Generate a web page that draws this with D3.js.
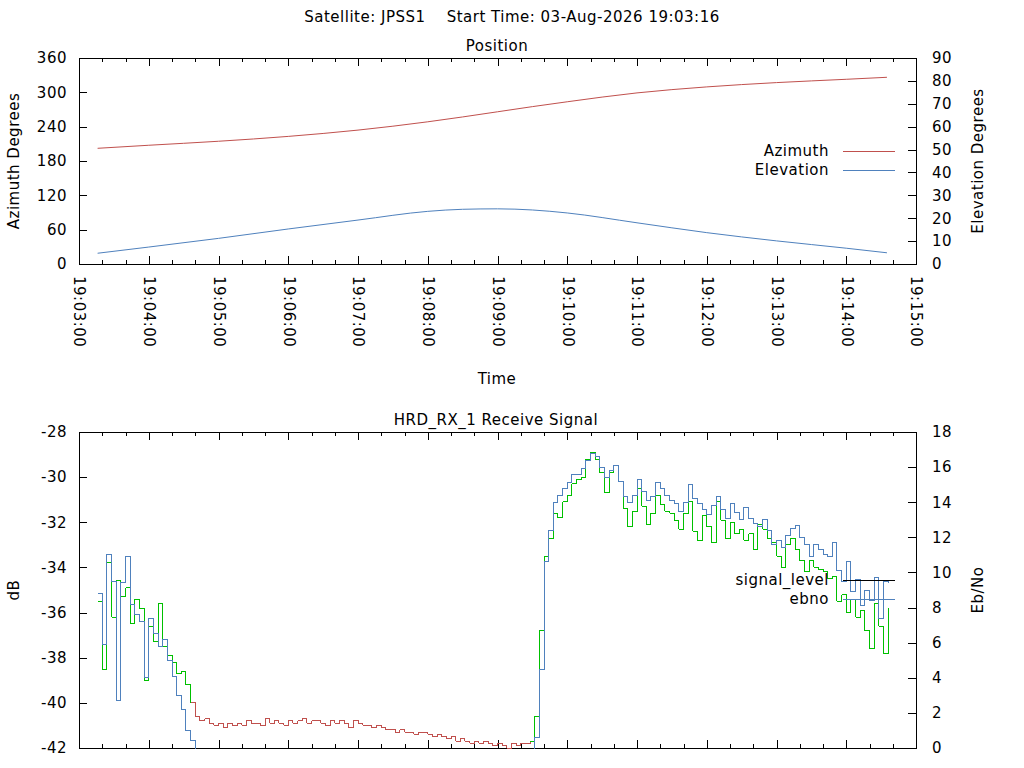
<!DOCTYPE html>
<html>
<head>
<meta charset="utf-8">
<title>JPSS1 pass</title>
<style>
  body { margin: 0; background: #ffffff; }
  svg { display: block; font-family: "DejaVu Sans", sans-serif; letter-spacing: 0.5px; }
  .axis .domain { display: none; }
</style>
</head>
<body>
<div id="chart"></div>
<script src="https://d3js.org/d3.v7.min.js"></script>
<script>
// pass info
var satellite = "JPSS1";
var startTime = "03-Aug-2026 19:03:16";
var passDay = "2026-08-03";

// x axis limits
var timeStart = "19:03:00";
var timeEnd = "19:15:00";

// tick values
var azTicks = [0, 60, 120, 180, 240, 300, 360];
var elTicks = [0, 10, 20, 30, 40, 50, 60, 70, 80, 90];
var dbTicks = [-42, -40, -38, -36, -34, -32, -30, -28];
var ebTicks = [0, 2, 4, 6, 8, 10, 12, 14, 16, 18];

// position samples
var posTimes = ["19:03:16", "19:04:00", "19:05:00", "19:06:00", "19:07:00", "19:08:00",
  "19:08:30", "19:09:00", "19:09:30", "19:10:00", "19:11:00", "19:12:00", "19:13:00",
  "19:14:00", "19:14:35"];
var azimuth = [202.2, 207.5, 214.5, 223, 234, 248.5, 257, 266, 275, 283.5, 299, 309.5, 317, 322.8, 326.3];
var elevation = [4.7, 7.4, 11.2, 15.3, 19.2, 23.0, 23.9, 24.1, 23.6, 22.3, 18.0, 13.7, 10.1, 6.9, 4.9];

// receive signal, logged every 4 s from the start time
var sigStart = "19:03:16";
var sigStep = 4;
var signalLevel = [
  -35.5, -38.5, -33.8, -36.2, -34.6, -35.3, -34.9, -36.5, -35.4, -35.8,
  -39.0, -36.6, -37.3, -35.6, -37.5, -37.9, -38.2, -38.7, -38.6, -39.2,
  -40.0, -40.6, -40.8, -40.7, -40.9, -41.0, -40.9, -41.1, -40.9, -41.0,
  -40.9, -41.0, -40.8, -40.9, -40.9, -41.0, -40.7, -40.9, -40.8, -40.9,
  -41.0, -40.8, -40.9, -40.8, -40.7, -40.9, -40.8, -40.8, -40.9, -41.0,
  -40.8, -40.9, -40.8, -40.9, -41.1, -40.8, -40.9, -41.0, -41.0, -41.1,
  -41.0, -41.1, -41.2, -41.2, -41.3, -41.2, -41.3, -41.3, -41.4, -41.3,
  -41.3, -41.4, -41.5, -41.4, -41.5, -41.6, -41.5, -41.7, -41.6, -41.7,
  -41.8, -41.7, -41.8, -41.7, -41.8, -41.9, -41.8, -41.9, -42.0, -41.8,
  -41.9, -41.8, -41.8, -41.7, -40.6, -36.8, -33.5, -32.7, -31.6, -31.8,
  -31.1, -30.8, -30.3, -30.1, -30.0, -29.2, -28.9, -29.2, -29.8, -30.7,
  -29.8, -29.5, -30.2, -31.4, -32.2, -31.5, -30.5, -31.3, -32.1, -31.6,
  -30.8, -31.2, -31.5, -31.6, -31.9, -32.3, -31.6, -31.1, -32.4, -32.8,
  -31.7, -32.2, -32.9, -31.1, -31.9, -32.7, -32.0, -32.5, -32.3, -32.8,
  -32.5, -33.2, -32.1, -32.3, -32.7, -32.9, -33.5, -34.0, -33.0, -32.7,
  -33.2, -33.7, -34.2, -33.7, -34.0, -34.1, -34.2, -34.5, -34.4, -35.5,
  -35.2, -36.0, -35.4, -36.2, -35.9, -36.8, -37.6, -35.6, -36.6, -37.8,
  -35.8];
var ebno = [
  8.8, 5.9, 11.0, 9.5, 2.7, 9.4, 10.9, 8.2, 7.6, 7.2,
  4.0, 7.4, 6.5, 5.8, 6.2, 5.0, 4.1, 3.0, 2.2, 1.0,
  0.4, -1.0, null, null, null, null, null, null, null, null,
  null, null, null, null, null, null, null, null, null, null,
  null, null, null, null, null, null, null, null, null, null,
  null, null, null, null, null, null, null, null, null, null,
  null, null, null, null, null, null, null, null, null, null,
  null, null, null, null, null, null, null, null, null, null,
  null, null, null, null, null, null, null, null, null, null,
  null, null, null, -1.0, 0.6, 4.5, 10.6, 12.4, 14.0, 14.4,
  14.8, 15.1, 15.6, 15.6, 15.9, 16.4, 16.8, 16.6, 16.0, 15.4,
  15.8, 16.1, 15.2, 14.3, 14.0, 14.4, 15.3, 14.6, 14.1, 14.3,
  15.1, 14.8, 14.4, 14.1, 13.9, 13.5, 14.0, 15.0, 14.2, 13.9,
  13.6, 13.3, 13.8, 14.3, 13.6, 13.1, 13.9, 13.4, 13.0, 13.7,
  13.1, 12.8, 12.6, 13.0, 12.4, 11.6, 11.8, 11.4, 12.1, 12.5,
  12.7, 12.0, 11.6, 10.9, 11.6, 11.3, 11.0, 10.9, 11.7, 10.1,
  9.5, 10.6, 8.9, 9.6, 8.1, 9.0, 8.4, 9.7, 7.4, 9.5,
  9.4];

var red = "#c0504d", blue = "#4f81bd", green = "#00c000";
var fontSize = 15;

var parseTime = d3.timeParse("%Y-%m-%d %H:%M:%S");
function at(hms) { return parseTime(passDay + " " + hms); }

var svg = d3.select("#chart").append("svg")
  .attr("width", 1024)
  .attr("height", 768);

var left = 79, right = 916;
var x = d3.scaleTime().domain([at(timeStart), at(timeEnd)]).range([left, right]);

// draws frame, tics and tick labels for one panel
function panel(top, bottom, yL, yR, ticksL, ticksR, xLabels, clipId) {
  var g = svg.append("g");

  svg.append("clipPath").attr("id", clipId)
    .append("rect").attr("x", left).attr("y", top)
    .attr("width", right - left + 1).attr("height", bottom - top + 1);

  var axes = [
    d3.axisBottom(x).ticks(d3.timeMinute.every(1)).tickSize(-8),
    d3.axisBottom(x).ticks(d3.timeSecond.every(20)).tickSize(-4).tickFormat(""),
    d3.axisTop(x).ticks(d3.timeMinute.every(1)).tickSize(-8).tickFormat(""),
    d3.axisTop(x).ticks(d3.timeSecond.every(20)).tickSize(-4).tickFormat("")
  ];
  axes.forEach(function(a, i) {
    var ax = g.append("g").attr("class", "axis")
      .attr("transform", "translate(0," + (i < 2 ? bottom : top) + ")")
      .call(a);
    if (i === 0) {
      if (xLabels) {
        ax.call(a.tickFormat(d3.timeFormat("%H:%M:%S")));
        ax.selectAll("text")
          .attr("y", 0).attr("x", 12).attr("dy", "0.35em")
          .attr("transform", "rotate(90)")
          .attr("text-anchor", "start");
      } else {
        ax.selectAll("text").remove();
      }
    }
  });

  g.append("g").attr("class", "axis")
    .attr("transform", "translate(" + left + ",0)")
    .call(d3.axisLeft(yL).tickValues(ticksL).tickSize(-8).tickPadding(12).tickFormat(String));
  g.append("g").attr("class", "axis")
    .attr("transform", "translate(" + right + ",0)")
    .call(d3.axisRight(yR).tickValues(ticksR).tickSize(-8).tickPadding(16).tickFormat(String));

  g.selectAll(".axis").attr("font-family", null).attr("font-size", fontSize);
  g.selectAll(".axis text").attr("fill", "#000");
  g.selectAll(".axis line").attr("stroke", "#000").attr("shape-rendering", "crispEdges");

  g.append("rect")
    .attr("x", left + 0.5).attr("y", top + 0.5)
    .attr("width", right - left).attr("height", bottom - top)
    .attr("fill", "none").attr("stroke", "#000")
    .attr("shape-rendering", "crispEdges");
}

function label(txt, px, py, rot, anchor) {
  return svg.append("text")
    .attr("transform", "translate(" + px + "," + py + ")" + (rot ? " rotate(" + rot + ")" : ""))
    .attr("text-anchor", anchor || "middle")
    .attr("dy", "0.35em")
    .attr("font-size", fontSize)
    .attr("fill", "#000")
    .text(txt);
}

function legend(items, ty) {
  items.forEach(function(it, i) {
    var yy = ty + i * 19;
    label(it[0], 829, yy, 0, "end");
    svg.append("line")
      .attr("x1", 843).attr("x2", 895)
      .attr("y1", yy + 0.5).attr("y2", yy + 0.5)
      .attr("stroke", it[1]).attr("shape-rendering", "crispEdges");
  });
}

// title
label("Satellite: " + satellite + "    Start Time: " + startTime, 512, 17, 0, "middle")
  .style("white-space", "pre");

// ---------- Position panel ----------
var pTop = 58, pBottom = 264;
var yAz = d3.scaleLinear().domain([0, 360]).range([pBottom, pTop]);
var yEl = d3.scaleLinear().domain([0, 90]).range([pBottom, pTop]);
panel(pTop, pBottom, yAz, yEl, azTicks, elTicks, true, "clipPos");

var posData = posTimes.map(function(t, i) {
  return { t: at(t), az: azimuth[i], el: elevation[i] };
});
var posPlot = svg.append("g").attr("clip-path", "url(#clipPos)");
posPlot.append("path").datum(posData)
  .attr("fill", "none").attr("stroke", red).attr("stroke-width", 1)
  .attr("d", d3.line().curve(d3.curveMonotoneX)
    .x(function(d) { return x(d.t); }).y(function(d) { return yAz(d.az); }));
posPlot.append("path").datum(posData)
  .attr("fill", "none").attr("stroke", blue).attr("stroke-width", 1)
  .attr("d", d3.line().curve(d3.curveMonotoneX)
    .x(function(d) { return x(d.t); }).y(function(d) { return yEl(d.el); }));

label("Position", 497, 46);
label("Azimuth Degrees", 14, 161, -90);
label("Elevation Degrees", 978, 161, -90);
label("Time", 497, 379);
legend([["Azimuth", red], ["Elevation", blue]], 151);

// ---------- Receive signal panel ----------
var sTop = 432, sBottom = 748;
var yDb = d3.scaleLinear().domain([-42, -28]).range([sBottom, sTop]);
var yEb = d3.scaleLinear().domain([0, 18]).range([sBottom, sTop]);
panel(sTop, sBottom, yDb, yEb, dbTicks, ebTicks, false, "clipSig");

var t0 = at(sigStart);
var sigData = signalLevel.map(function(v, i) {
  return { t: d3.timeSecond.offset(t0, i * sigStep), db: v, eb: ebno[i],
    locked: ebno[i] !== null && ebno[i] > 0 };
});
var sigPlot = svg.append("g").attr("clip-path", "url(#clipSig)");
var stepDb = d3.line().curve(d3.curveStepAfter)
  .x(function(d) { return x(d.t); }).y(function(d) { return yDb(d.db); });

// signal level coloured by lock state, one step per segment
sigPlot.selectAll("path.level")
  .data(d3.pairs(sigData))
  .enter().append("path")
  .attr("class", "level")
  .attr("fill", "none")
  .attr("stroke", function(p) { return p[1].locked ? green : red; })
  .attr("stroke-width", 1)
  .attr("shape-rendering", "crispEdges")
  .attr("d", function(p) { return stepDb(p); });

sigPlot.append("path").datum(sigData)
  .attr("fill", "none").attr("stroke", blue).attr("stroke-width", 1)
  .attr("shape-rendering", "crispEdges")
  .attr("d", d3.line().curve(d3.curveStepAfter)
    .defined(function(d) { return d.eb !== null; })
    .x(function(d) { return x(d.t); }).y(function(d) { return yEb(d.eb); }));

label("HRD_RX_1 Receive Signal", 496, 420);
label("dB", 14, 590, -90);
label("Eb/No", 978, 590, -90);
legend([["signal_level", "#000"], ["ebno", blue]], 580);
</script>
</body>
</html>
